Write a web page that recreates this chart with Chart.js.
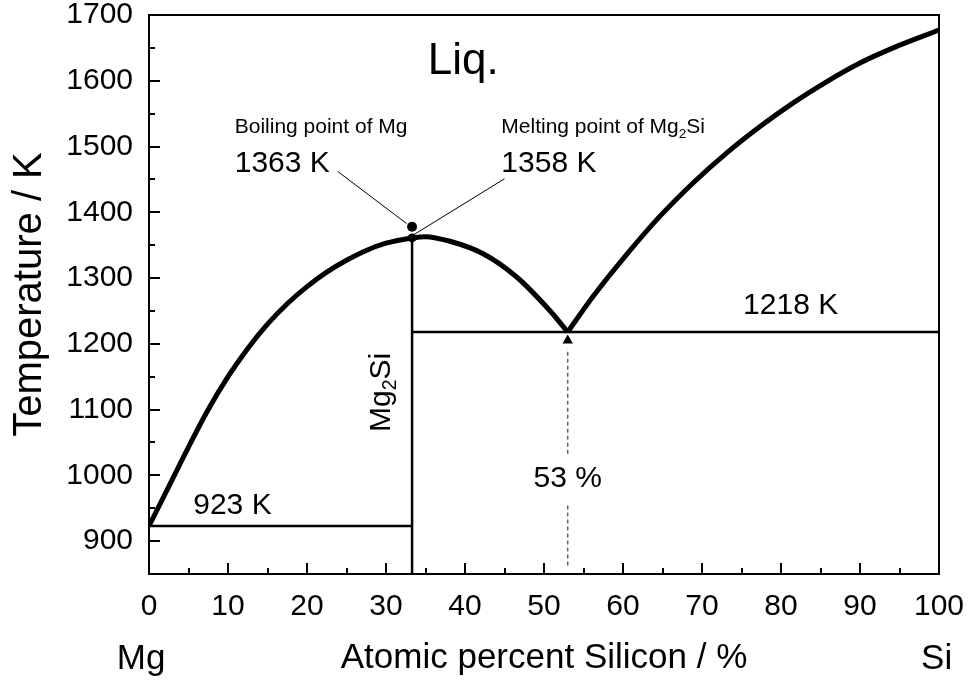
<!DOCTYPE html>
<html>
<head>
<meta charset="utf-8">
<title>Mg-Si phase diagram</title>
<script src="https://cdn.jsdelivr.net/npm/chart.js@4/dist/chart.umd.min.js"></script>
<style>
    html, body { margin: 0; padding: 0; background: #fff; }
</style>
</head>
<body>
<canvas id="phaseChart" width="974" height="681"></canvas>
<script>
// Liquidus, Mg side up to the Mg2Si maximum and down to the eutectic
const liqLeftX = [0, 2.5, 5, 7.5, 10, 12.5, 15, 17.5, 20, 22.5, 25, 27.5, 30, 33.3, 35, 38.1, 42.3, 46.5, 50.7, 53];
const liqLeftT = [923, 983, 1043, 1100, 1150, 1193, 1230, 1261, 1287, 1309, 1327, 1342, 1353, 1361, 1363, 1356, 1337, 1302, 1251, 1218];

// Liquidus, Si side
const liqRightX = [53, 56.2, 60.4, 64.6, 68.9, 73.1, 77.3, 81.5, 85.7, 90, 94.2, 100];
const liqRightT = [1218, 1272, 1335, 1393, 1445, 1490, 1530, 1566, 1598, 1627, 1650, 1677];

// Solid lines
const eutMgX = [0, 33.3];
const eutMgT = [923, 923];
const compX = [33.3, 33.3];
const compT = [850, 1361];
const eutSiX = [33.3, 100];
const eutSiT = [1218, 1218];

// 53 % marker (dashed, broken around its label) and arrow head
const dashLowX = [53, 53];
const dashLowT = [863, 957];
const dashHighX = [53, 53];
const dashHighT = [1033, 1193];
const arrowX = [53];
const arrowT = [1205];

// Special points and their leader lines
const boilX = [33.3];
const boilT = [1378];
const meltX = [33.3];
const meltT = [1361];
const leadBoilX = [23.9, 32.6];
const leadBoilT = [1462, 1383];
const leadMeltX = [45.0, 33.4];
const leadMeltT = [1451, 1365];

// Axis ticks
const xTicks = [0, 10, 20, 30, 40, 50, 60, 70, 80, 90, 100];
const yTicks = [900, 1000, 1100, 1200, 1300, 1400, 1500, 1600, 1700];

const FONT = '"Liberation Sans", Arial, Helvetica, sans-serif';

function pts(xs, ys) {
    return xs.map((x, i) => ({ x: x, y: ys[i] }));
}

function lineSet(xs, ys, width, extra) {
    return Object.assign({
        data: pts(xs, ys),
        showLine: true,
        borderColor: '#000',
        borderWidth: width,
        pointRadius: 0,
        fill: false
    }, extra || {});
}

// Text annotations, placed in data units
const notes = [
    { parts: [{ t: 'Liq.' }], x: 35.3, y: 1611, size: 44 },
    { parts: [{ t: 'Boiling point of Mg' }], x: 10.85, y: 1520, size: 21 },
    { parts: [{ t: '1363 K' }], x: 10.85, y: 1461.5, size: 30 },
    { parts: [{ t: 'Melting point of Mg' }, { t: '2', sub: true }, { t: 'Si' }], x: 44.6, y: 1520, size: 21 },
    { parts: [{ t: '1358 K' }], x: 44.6, y: 1461.5, size: 30 },
    { parts: [{ t: '1218 K' }], x: 75.2, y: 1246, size: 30 },
    { parts: [{ t: '923 K' }], x: 5.6, y: 941.5, size: 30 },
    { parts: [{ t: '53 %' }], x: 53, y: 982, size: 30, center: true },
    { parts: [{ t: 'Mg' }, { t: '2', sub: true }, { t: 'Si' }], x: 30.5, y: 1066, size: 30, rotate: true },
    { parts: [{ t: 'Mg' }], x: -1, y: 706, size: 35, center: true },
    { parts: [{ t: 'Si' }], x: 99.7, y: 706, size: 35, center: true }
];

function richWidth(ctx, parts, size) {
    let w = 0;
    parts.forEach(p => {
        ctx.font = (p.sub ? size * 0.65 : size) + 'px ' + FONT;
        w += ctx.measureText(p.t).width;
    });
    return w;
}

function drawRich(ctx, parts, x, y, size) {
    let cx = x;
    parts.forEach(p => {
        const s = p.sub ? size * 0.65 : size;
        ctx.font = s + 'px ' + FONT;
        ctx.fillText(p.t, cx, y + (p.sub ? size * 0.2 : 0));
        cx += ctx.measureText(p.t).width;
    });
}

const notesPlugin = {
    id: 'notes',
    afterDraw(chart) {
        const ctx = chart.ctx;
        const xs = chart.scales.x;
        const ys = chart.scales.y;
        const area = chart.chartArea;

        ctx.save();
        // frame on top and right
        ctx.strokeStyle = '#000';
        ctx.lineWidth = 2;
        ctx.strokeRect(area.left, area.top, area.right - area.left, area.bottom - area.top);

        // inward tick marks, minor every half step
        ctx.beginPath();
        for (let v = 850; v <= 1700; v += 50) {
            const py = Math.round(ys.getPixelForValue(v));
            const len = v % 100 === 0 ? 11 : 6;
            ctx.moveTo(area.left, py);
            ctx.lineTo(area.left + len, py);
        }
        for (let v = 0; v <= 100; v += 5) {
            const px = Math.round(xs.getPixelForValue(v));
            const len = v % 10 === 0 ? 11 : 6;
            ctx.moveTo(px, area.bottom);
            ctx.lineTo(px, area.bottom - len);
        }
        ctx.stroke();

        // text
        ctx.fillStyle = '#000';
        ctx.textBaseline = 'alphabetic';
        ctx.textAlign = 'left';
        notes.forEach(n => {
            const px = xs.getPixelForValue(n.x);
            const py = ys.getPixelForValue(n.y);
            if (n.rotate) {
                ctx.save();
                ctx.translate(px, py);
                ctx.rotate(-Math.PI / 2);
                drawRich(ctx, n.parts, 0, 0, n.size);
                ctx.restore();
            } else {
                const w = n.center ? richWidth(ctx, n.parts, n.size) : 0;
                drawRich(ctx, n.parts, px - w / 2, py, n.size);
            }
        });
        ctx.restore();
    }
};

const datasets = [
    lineSet(liqLeftX, liqLeftT, 5, { cubicInterpolationMode: 'monotone' }),
    lineSet(liqRightX, liqRightT, 5, { cubicInterpolationMode: 'monotone' }),
    lineSet(eutMgX, eutMgT, 2.5),
    lineSet(compX, compT, 2.5),
    lineSet(eutSiX, eutSiT, 2.5),
    lineSet(dashLowX, dashLowT, 1.5, { borderColor: '#666', borderDash: [4, 3] }),
    lineSet(dashHighX, dashHighT, 1.5, { borderColor: '#666', borderDash: [4, 3] }),
    lineSet(leadBoilX, leadBoilT, 1),
    lineSet(leadMeltX, leadMeltT, 1),
    {
        data: pts(arrowX, arrowT),
        pointStyle: 'triangle',
        pointRadius: 6,
        backgroundColor: '#000',
        borderColor: '#000',
        borderWidth: 0
    },
    {
        data: pts(boilX, boilT),
        pointRadius: 5,
        backgroundColor: '#000',
        borderColor: '#000',
        borderWidth: 0
    },
    {
        data: pts(meltX, meltT),
        pointRadius: 4.5,
        backgroundColor: '#000',
        borderColor: '#000',
        borderWidth: 0
    }
];

const ctx = document.getElementById('phaseChart').getContext('2d');
const phaseChart = new Chart(ctx, {
    type: 'scatter',
    data: { datasets: datasets },
    options: {
        responsive: false,
        animation: false,
        events: [],
        layout: { padding: { top: 15, right: 35, left: 0, bottom: 0 } },
        plugins: {
            legend: { display: false },
            tooltip: { enabled: false }
        },
        scales: {
            x: {
                type: 'linear',
                min: 0,
                max: 100,
                afterBuildTicks: s => { s.ticks = xTicks.map(v => ({ value: v })); },
                afterFit: s => { s.height = 107; s.paddingLeft = 0; s.paddingRight = 0; },
                grid: { display: false, drawTicks: false },
                border: { display: true, color: '#000', width: 2 },
                ticks: {
                    color: '#000',
                    font: { family: FONT, size: 30, lineHeight: 1 },
                    padding: 18,
                    maxRotation: 0,
                    autoSkip: false,
                    callback: v => String(v)
                },
                title: {
                    display: true,
                    text: 'Atomic percent Silicon / %',
                    color: '#000',
                    font: { family: FONT, size: 35 },
                    padding: { top: 0, bottom: 2 }
                }
            },
            y: {
                type: 'linear',
                min: 850,
                max: 1700,
                afterBuildTicks: s => { s.ticks = yTicks.map(v => ({ value: v })); },
                afterFit: s => { s.width = 149; s.paddingTop = 0; s.paddingBottom = 0; },
                grid: { display: false, drawTicks: false },
                border: { display: true, color: '#000', width: 2 },
                ticks: {
                    color: '#000',
                    font: { family: FONT, size: 30, lineHeight: 1 },
                    padding: 16,
                    autoSkip: false,
                    callback: v => String(v)
                },
                title: {
                    display: true,
                    text: 'Temperature / K',
                    color: '#000',
                    font: { family: FONT, size: 40 },
                    padding: { top: 6, bottom: 0 }
                }
            }
        }
    },
    plugins: [notesPlugin]
});
</script>
</body>
</html>
